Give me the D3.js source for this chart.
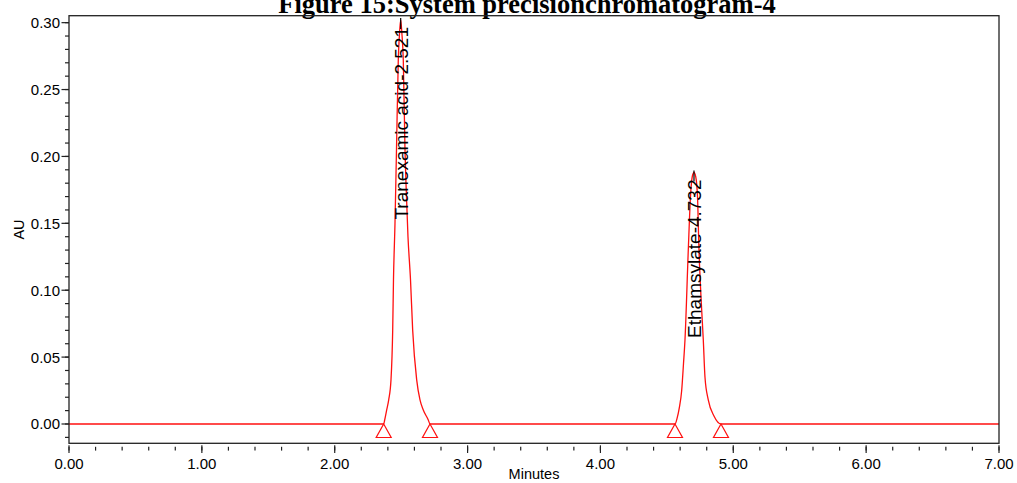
<!DOCTYPE html>
<html><head><meta charset="utf-8">
<script src="https://cdn.jsdelivr.net/npm/d3@7"></script>
<style>
body{margin:0;background:#fff;}
svg{display:block;}
</style>
</head><body>
<svg id="chart" width="1017" height="483"></svg>
<script>
// ---- data ----
const titleText = "Figure 15:System precisionchromatogram-4";
const xTicks = [0, 1, 2, 3, 4, 5, 6, 7];
const yTicks = [0.00, 0.05, 0.10, 0.15, 0.20, 0.25, 0.30];
const timeMin = [0, 2.3686, 2.3761, 2.3912, 2.4063, 2.4236, 2.4364, 2.4424, 2.4537, 2.4650, 2.4785, 2.4876, 2.4966, 2.5056, 2.5162, 2.5290, 2.5365, 2.5515, 2.5704, 2.5869, 2.6170, 2.6419, 2.6667, 2.7043, 2.7171,
  4.5612, 4.5763, 4.5936, 4.6116, 4.6252, 4.6365, 4.6613, 4.6779, 4.6914, 4.7042, 4.7170, 4.7306, 4.7418, 4.7569, 4.7742, 4.7870, 4.8117, 4.8546, 4.9074, 7];
const absAU = [0, 0, 0.003, 0.0105, 0.018, 0.033, 0.070, 0.108, 0.150, 0.205, 0.272, 0.292, 0.302, 0.292, 0.272, 0.205, 0.180, 0.140, 0.108, 0.070, 0.033, 0.018, 0.0105, 0.003, 0,
  0, 0.004, 0.012, 0.025, 0.045, 0.063, 0.130, 0.170, 0.185, 0.188, 0.185, 0.170, 0.130, 0.095, 0.063, 0.035, 0.018, 0.006, 0, 0];
const peakNames = ["Tranexamic acid-2.521", "Ethamsylate-4.732"];
const peakApexTime = [2.4966, 4.7042];
const peakApexAU = [0.302, 0.188];
const markerTimes = [2.3686, 2.7171, 4.5612, 4.9074];

// ---- layout ----
const svg = d3.select("#chart");
const L = 69, R = 999, T = 15.7, B = 443.3;
const x = d3.scaleLinear().domain([0, 7]).range([L, R]);
const y = d3.scaleLinear().domain([-0.01443, 0.3052]).range([B, T]);
const font = "'Liberation Sans', Arial, Helvetica, sans-serif";
const red = "#ff1010";

// title
svg.append("text").attr("x", 527).attr("y", 13).attr("text-anchor", "middle")
  .attr("font-family", "'Liberation Serif', 'Times New Roman', serif")
  .attr("font-weight", "bold").attr("font-size", 26.5).attr("fill", "#000").text(titleText);

// y ticks
const yMinor = d3.range(-1, 31).map(i => i / 100);
svg.append("g").selectAll("line").data(yMinor).join("line")
  .attr("x1", L - 4).attr("x2", L).attr("y1", d => y(d)).attr("y2", d => y(d))
  .attr("stroke", "#222").attr("stroke-width", 1.2);
svg.append("g").selectAll("line").data(yTicks).join("line")
  .attr("x1", L - 7.5).attr("x2", L).attr("y1", d => y(d)).attr("y2", d => y(d))
  .attr("stroke", "#222").attr("stroke-width", 1.2);
svg.append("g").selectAll("text").data(yTicks).join("text")
  .attr("x", L - 9).attr("y", d => y(d)).attr("dy", "0.36em").attr("text-anchor", "end")
  .attr("font-family", font).attr("font-size", 15).attr("fill", "#000")
  .text(d => d3.format(".2f")(d));

// x ticks
const xMinor = d3.range(0, 36).map(i => i / 5);
svg.append("g").selectAll("line").data(xMinor).join("line")
  .attr("x1", d => x(d)).attr("x2", d => x(d)).attr("y1", B + 3.5).attr("y2", B + 7.3)
  .attr("stroke", "#222").attr("stroke-width", 1.2);
svg.append("g").selectAll("line").data(xTicks).join("line")
  .attr("x1", d => x(d)).attr("x2", d => x(d)).attr("y1", B + 2).attr("y2", B + 9.7)
  .attr("stroke", "#222").attr("stroke-width", 1.2);
svg.append("g").selectAll("text").data(xTicks).join("text")
  .attr("x", d => x(d)).attr("y", 468.5).attr("text-anchor", "middle")
  .attr("font-family", font).attr("font-size", 15).attr("fill", "#000")
  .text(d => d3.format(".2f")(d));

// axis titles
svg.append("text").attr("x", (L + R) / 2).attr("y", 478.5).attr("text-anchor", "middle")
  .attr("font-family", font).attr("font-size", 14.5).attr("fill", "#000").text("Minutes");
svg.append("text").attr("transform", `translate(23.5,${(T + B) / 2}) rotate(-90)`).attr("text-anchor", "middle")
  .attr("font-family", font).attr("font-size", 14.5).attr("fill", "#000").text("AU");

// chromatogram
const pts = timeMin.map((t, i) => [t, absAU[i]]);
const line = d3.line().x(d => x(d[0])).y(d => y(d[1])).curve(d3.curveMonotoneX);
svg.append("path").attr("d", line(pts)).attr("fill", "none").attr("stroke", red).attr("stroke-width", 1.3);

// baseline markers (triangles)
svg.append("g").selectAll("path").data(markerTimes).join("path")
  .attr("d", d => {
    const cx = x(d), cy = y(0);
    return `M${cx},${cy}L${cx + 7.5},${cy + 13.5}L${cx - 7.5},${cy + 13.5}Z`;
  })
  .attr("fill", "none").attr("stroke", red).attr("stroke-width", 1.2);

// apex markers & labels
peakNames.forEach((name, i) => {
  const px = x(peakApexTime[i]), py = y(peakApexAU[i]);
  svg.append("line").attr("x1", px).attr("x2", px).attr("y1", py - 2).attr("y2", py + 9)
    .attr("stroke", "#000").attr("stroke-width", 1.2);
  svg.append("text").attr("transform", `translate(${px + 7},${py + 7}) rotate(-90)`)
    .attr("text-anchor", "end").attr("font-family", font).attr("font-size", 19).attr("fill", "#000")
    .text(name);
});

// frame
svg.append("rect").attr("x", L).attr("y", T).attr("width", R - L).attr("height", B - T)
  .attr("fill", "none").attr("stroke", "#222").attr("stroke-width", 1.3);
</script>
</body></html>
